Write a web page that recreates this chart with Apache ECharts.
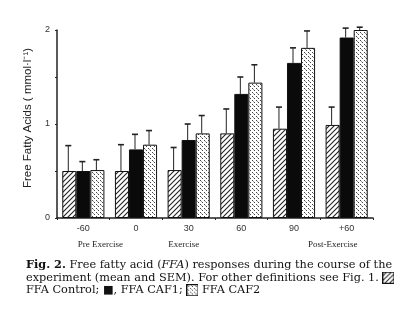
<!DOCTYPE html>
<html>
<head>
<meta charset="utf-8">
<script src="https://cdn.jsdelivr.net/npm/echarts@6/dist/echarts.min.js"></script>
<style>
	html, body { margin:0; padding:0; background:#fff; }
	#chart { width:420px; height:310px; }
</style>
</head>
<body>
<div id="chart"></div>
<script>
(function(){
	'use strict';

	// data (mmol/l, mean and SEM upper end)
	var categories = ['-60', '0', '30', '60', '90', '+60'];
	var phases = ['Pre Exercise', '', 'Exercise', '', '', 'Post-Exercise'];
	var seriesNames = ['FFA Control', 'FFA CAF1', 'FFA CAF2'];
	var ffaControl = [0.50, 0.50, 0.51, 0.90, 0.95, 0.99];
	var ffaCaf1    = [0.50, 0.73, 0.83, 1.32, 1.65, 1.92];
	var ffaCaf2    = [0.51, 0.78, 0.90, 1.44, 1.81, 2.00];
	var errControl = [0.77, 0.78, 0.75, 1.16, 1.18, 1.18];
	var errCaf1    = [0.60, 0.89, 1.00, 1.50, 1.81, 2.02];
	var errCaf2    = [0.62, 0.93, 1.09, 1.63, 1.99, 2.03];
	var yTicks = [0, 1, 2];

	var means = [ffaControl, ffaCaf1, ffaCaf2];
	var errs = [errControl, errCaf1, errCaf2];

	// fill patterns ----------------
	var hatch = function(size){
		var c = document.createElement('canvas');
		c.width = size; c.height = size;
		var g = c.getContext('2d');
		g.fillStyle = '#fff'; g.fillRect(0, 0, size, size);
		g.strokeStyle = '#222'; g.lineWidth = 1.1;
		g.beginPath();
		g.moveTo(-1, size + 1); g.lineTo(size + 1, -1);
		g.moveTo(-1, 1); g.lineTo(1, -1);
		g.moveTo(size - 1, size + 1); g.lineTo(size + 1, size - 1);
		g.stroke();
		return c;
	};
	var dots = function(){
		var c = document.createElement('canvas');
		c.width = 4; c.height = 4;
		var g = c.getContext('2d');
		g.fillStyle = '#fff'; g.fillRect(0, 0, 4, 4);
		g.fillStyle = '#444';
		g.fillRect(0, 0, 1, 1); g.fillRect(2, 2, 1, 1);
		g.fillStyle = '#999';
		g.fillRect(1, 1, 1, 1);
		return c;
	};
	var hatchTile = hatch(5);
	var dotTile = dots();

	// small boxed icons for the caption
	var icon = function(tile){
		var c = document.createElement('canvas');
		c.width = 13; c.height = 13;
		var g = c.getContext('2d');
		g.fillStyle = g.createPattern(tile, 'repeat');
		g.fillRect(0, 0, 13, 13);
		g.strokeStyle = '#111'; g.lineWidth = 1.2;
		g.strokeRect(0.5, 0.5, 12, 12);
		return c;
	};

	var fills = [
		{ image: hatchTile, repeat: 'repeat' },
		'#0a0a0a',
		{ image: dotTile, repeat: 'repeat' }
	];

	var barSeries = means.map(function(d, i){
		return {
			name: seriesNames[i],
			type: 'bar',
			data: d,
			barGap: '0%',
			barCategoryGap: '20%',
			itemStyle: { color: fills[i], borderColor: '#111', borderWidth: 1 },
			z: 2
		};
	});

	// SEM bars (upper half only) -------------
	var errSeries = errs.map(function(e, i){
		return {
			type: 'custom',
			z: 3,
			data: e.map(function(v, k){ return [k, means[i][k], v]; }),
			renderItem: function(params, api){
				var band = api.size([1, 0])[0];
				var bw = band * 0.8 / 3;
				var lo = api.coord([api.value(0), api.value(1)]);
				var hi = api.coord([api.value(0), api.value(2)]);
				var x = lo[0] + (i - 1) * bw - 1;
				var cap = 3;
				return {
					type: 'group',
					children: [
						{ type: 'line', shape: { x1: x, y1: lo[1], x2: x, y2: hi[1] }, style: { stroke: '#222', lineWidth: 1 } },
						{ type: 'line', shape: { x1: x - cap, y1: hi[1], x2: x + cap, y2: hi[1] }, style: { stroke: '#222', lineWidth: 1.6 } }
					]
				};
			}
		};
	});

	// phase label shifts under the axis (left / right padding)
	var phasePad = {
		'Pre Exercise': [0, 0, 0, 34],
		'Exercise': [0, 10, 0, 0],
		'Post-Exercise': [0, 28, 0, 0]
	};

	var capFont = 11.3;

	var myChart = echarts.init(document.getElementById('chart'));
	var option = {
		backgroundColor: '#fff',
		animation: false,
		grid: { left: 57, right: 47, top: 30, bottom: 92 },
		xAxis: [
			{
				type: 'category',
				data: categories,
				axisLine: { lineStyle: { color: '#222', width: 1.5 } },
				axisTick: { show: true, length: 2, lineStyle: { color: '#222' } },
				axisLabel: { color: '#333', fontSize: 9, fontFamily: 'Liberation Sans', margin: 6 }
			},
			{
				type: 'category',
				data: phases,
				position: 'bottom',
				offset: 16,
				axisLine: { show: false },
				axisTick: { show: false },
				axisLabel: {
					color: '#222', fontSize: 9, fontFamily: 'Liberation Serif', margin: 6, interval: 0,
					formatter: function(v){
						if (!v) return '';
						return '{' + (v === 'Pre Exercise' ? 'a' : v === 'Exercise' ? 'b' : 'c') + '|' + v + '}';
					},
					rich: {
						a: { fontSize: 9, fontFamily: 'Liberation Serif', color: '#222', padding: phasePad['Pre Exercise'] },
						b: { fontSize: 9, fontFamily: 'Liberation Serif', color: '#222', padding: phasePad['Exercise'] },
						c: { fontSize: 9, fontFamily: 'Liberation Serif', color: '#222', padding: phasePad['Post-Exercise'] }
					}
				}
			}
		],
		yAxis: {
			type: 'value',
			min: 0, max: 2, interval: 0.5,
			name: 'Free Fatty Acids ( mmol\u00b7l\u207b\u00b9)',
			nameLocation: 'middle',
			nameGap: 13,
			nameTextStyle: { color: '#222', fontSize: 11.5, fontFamily: 'Liberation Sans', padding: [0, 0, 0, 12] },
			axisLine: { show: true, lineStyle: { color: '#222', width: 1.5 } },
			axisTick: { show: true, length: 2, lineStyle: { color: '#222' } },
			splitLine: { show: false },
			axisLabel: {
				color: '#333', fontSize: 9, fontFamily: 'Liberation Sans', margin: 7,
				formatter: function(v){ return yTicks.indexOf(v) >= 0 ? String(v) : ''; }
			}
		},
		series: barSeries.concat(errSeries),
		graphic: [
			{
				type: 'text',
				left: 26, top: 259,
				style: {
					text: '{b|Fig. 2.} Free fatty acid ({i|FFA}) responses during the course of the\n' +
						'experiment (mean and SEM). For other definitions see Fig. 1. {h|}\n' +
						'FFA Control; \u25a0, FFA CAF1; {d|} FFA CAF2',
					fill: '#111',
					font: capFont + 'px "DejaVu Serif"',
					lineHeight: 12.5,
					rich: {
						b: { fontWeight: 'bold', fontSize: capFont, fontFamily: 'DejaVu Serif', fill: '#111', lineHeight: 12.5 },
						i: { fontStyle: 'italic', fontSize: capFont, fontFamily: 'DejaVu Serif', fill: '#111', lineHeight: 12.5 },
						h: { width: 12, height: 12, backgroundColor: { image: icon(hatchTile) } },
						d: { width: 12, height: 12, backgroundColor: { image: icon(dotTile) } }
					}
				}
			}
		]
	};
	myChart.setOption(option);
})();
</script>
</body>
</html>
